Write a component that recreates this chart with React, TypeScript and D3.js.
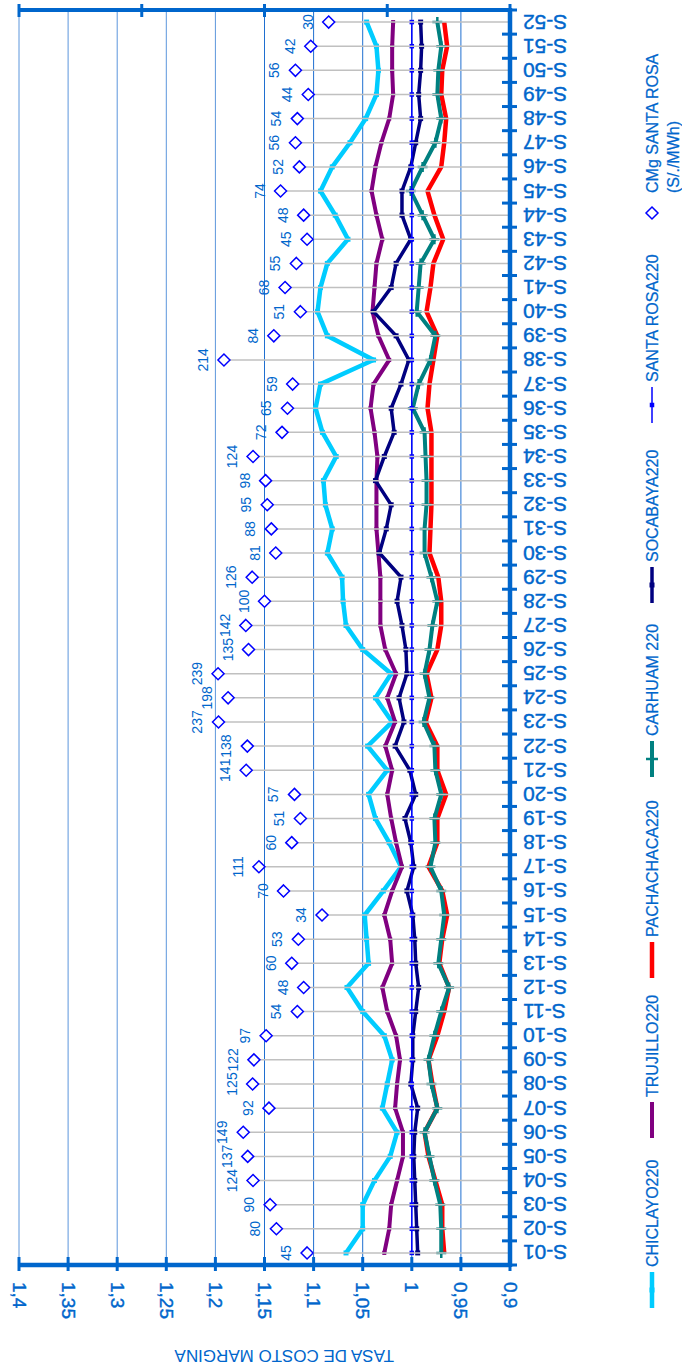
import * as d3 from 'd3';
import { useEffect, useRef } from 'react';

// semanas S-01 .. S-52 (de abajo hacia arriba en el gráfico girado)
const categories = [
  'S-01', 'S-02', 'S-03', 'S-04', 'S-05', 'S-06', 'S-07', 'S-08', 'S-09', 'S-10',
  'S-11', 'S-12', 'S-13', 'S-14', 'S-15', 'S-16', 'S-17', 'S-18', 'S-19', 'S-20',
  'S-21', 'S-22', 'S-23', 'S-24', 'S-25', 'S-26', 'S-27', 'S-28', 'S-29', 'S-30',
  'S-31', 'S-32', 'S-33', 'S-34', 'S-35', 'S-36', 'S-37', 'S-38', 'S-39', 'S-40',
  'S-41', 'S-42', 'S-43', 'S-44', 'S-45', 'S-46', 'S-47', 'S-48', 'S-49', 'S-50',
  'S-51', 'S-52',
];

const chiclayo = [
  1.067, 1.05, 1.05, 1.038, 1.022, 1.015, 1.03, 1.025, 1.02, 1.028,
  1.05, 1.066, 1.044, 1.046, 1.048, 1.029, 1.011, 1.023, 1.037, 1.044,
  1.025, 1.045, 1.02, 1.037, 1.021, 1.05, 1.067, 1.07, 1.071, 1.086,
  1.081, 1.088, 1.09, 1.077, 1.091, 1.098, 1.093, 1.039, 1.086, 1.096,
  1.093, 1.086, 1.065, 1.078, 1.093, 1.081, 1.063, 1.047, 1.036, 1.034,
  1.036, 1.046,
];
const trujillo = [
  1.028, 1.023, 1.021, 1.015, 1.009, 1.009, 1.017, 1.015, 1.012, 1.016,
  1.025, 1.03, 1.02, 1.022, 1.028, 1.02, 1.01, 1.016, 1.021, 1.025,
  1.02, 1.027, 1.017, 1.025, 1.016, 1.027, 1.032, 1.032, 1.032, 1.034,
  1.036, 1.036, 1.036, 1.035, 1.038, 1.042, 1.039, 1.023, 1.034, 1.04,
  1.038, 1.036, 1.03, 1.036, 1.041, 1.037, 1.031, 1.023, 1.019, 1.02,
  1.02, 1.019,
];
const pachachaca = [
  0.967, 0.969, 0.969, 0.976, 0.983, 0.987, 0.974, 0.979, 0.983, 0.974,
  0.967, 0.962, 0.972, 0.969, 0.964, 0.969, 0.983, 0.974, 0.974, 0.965,
  0.974, 0.974, 0.986, 0.98, 0.985, 0.974, 0.97, 0.97, 0.973, 0.982,
  0.981, 0.98, 0.98, 0.98, 0.98, 0.984, 0.982, 0.978, 0.974, 0.985,
  0.981, 0.978, 0.968, 0.977, 0.984, 0.97, 0.967, 0.965, 0.97, 0.969,
  0.964, 0.967,
];
const carhuamayo = [
  0.97, 0.97, 0.971, 0.977, 0.982, 0.987, 0.974, 0.98, 0.983, 0.977,
  0.97, 0.962, 0.973, 0.97, 0.967, 0.97, 0.981, 0.976, 0.977, 0.97,
  0.976, 0.977, 0.988, 0.982, 0.987, 0.982, 0.979, 0.974, 0.98, 0.987,
  0.987, 0.985, 0.985, 0.986, 0.987, 0.999, 0.993, 0.981, 0.976, 0.995,
  0.993, 0.991, 0.977, 0.989, 1.001, 0.989, 0.976, 0.97, 0.974, 0.973,
  0.97, 0.974,
];
const socabaya = [
  0.994, 0.995, 0.996, 0.997, 0.998, 0.997, 0.994, 1.001, 0.999, 0.999,
  0.996, 0.993, 0.996, 0.997, 0.999, 1.005, 0.998, 1.001, 1.007, 0.996,
  1.002, 1.017, 1.008, 1.013, 1.005, 1.006, 1.01, 1.015, 1.011, 1.033,
  1.026, 1.021, 1.037, 1.028, 1.018, 1.021, 1.011, 1.003, 1.016, 1.039,
  1.021, 1.016, 1.001, 1.01, 1.01, 1.001, 0.996, 0.991, 0.993, 0.991,
  0.99, 0.991,
];
const santaRosa = [
  1, 1, 1, 1, 1, 1, 1, 1, 1, 1, 1, 1, 1, 1, 1, 1, 1, 1, 1, 1, 1, 1, 1, 1, 1, 1,
  1, 1, 1, 1, 1, 1, 1, 1, 1, 1, 1, 1, 1, 1, 1, 1, 1, 1, 1, 1, 1, 1, 1, 1, 1, 1,
];
// CMg Santa Rosa en S/./MWh (eje secundario logarítmico)
const cmgSantaRosa = [
  45, 80, 90, 124, 137, 149, 92, 125, 122, 97,
  54, 48, 60, 53, 34, 70, 111, 60, 51, 57,
  141, 138, 237, 198, 239, 135, 142, 100, 126, 81,
  88, 95, 98, 124, 72, 65, 59, 214, 84, 51,
  68, 55, 45, 48, 74, 52, 56, 54, 44, 56,
  42, 30,
];

const valueTicks = [1.4, 1.35, 1.3, 1.25, 1.2, 1.15, 1.1, 1.05, 1, 0.95, 0.9];
const logTicks = [1, 10, 100, 1000, 10000];
const axisTitle = 'TASA DE COSTO MARGINA';

const lineSeries = [
  { name: 'CHICLAYO220', values: chiclayo, color: '#00CCFF', width: 4.5, marker: 'square', size: 5 },
  { name: 'TRUJILLO220', values: trujillo, color: '#800080', width: 4, marker: 'square', size: 4 },
  { name: 'PACHACHACA220', values: pachachaca, color: '#FF0000', width: 4.5, marker: 'none', size: 0 },
  { name: 'CARHUAM 220', values: carhuamayo, color: '#008080', width: 4, marker: 'plus', size: 10 },
  { name: 'SOCABAYA220', values: socabaya, color: '#000080', width: 3.5, marker: 'square', size: 5 },
  { name: 'SANTA ROSA220', values: santaRosa, color: '#0000FF', width: 1.5, marker: 'square', size: 4.5 },
];

const W = 682;
const H = 1370;
const BLUE = '#0066CC';
const FONT = "'Liberation Sans', Arial, sans-serif";

export default function App() {
  const ref = useRef<SVGSVGElement | null>(null);

  useEffect(() => {
    if (!ref.current) return;
    const svg = d3.select(ref.current);
    svg.selectAll('*').remove();

    const left = 19, right = 510, top = 10, bottom = 1265;

    const x = d3.scaleLinear().domain([0.9, 1.4]).range([right, left]);
    const xLog = d3.scaleLog().domain([1, 10000]).range([right, left]);
    const y = d3.scaleBand<string>().domain(categories).range([bottom, top]);
    const cy = (c: string) => (y(c) || 0) + y.bandwidth() / 2;
    const fmt = (v: number) => d3.format('~g')(v).replace('.', ',');

    const g = svg.append('g').attr('font-family', FONT);

    // grid
    g.selectAll('line.grid')
      .data(valueTicks)
      .join('line')
      .attr('x1', (d) => x(d)).attr('x2', (d) => x(d))
      .attr('y1', top).attr('y2', bottom)
      .attr('stroke', (d) => (d >= 1.2 ? '#5C96DC' : '#1F6FD0')).attr('stroke-width', 1);

    // series lines
    lineSeries.forEach((s) => {
      const pts = s.values.map((v, i) => [x(v), cy(categories[i])] as [number, number]);
      g.append('path')
        .attr('d', d3.line()(pts) || '')
        .attr('fill', 'none')
        .attr('stroke', s.color)
        .attr('stroke-width', s.width)
        .attr('stroke-linejoin', 'miter');
      if (s.marker === 'square') {
        g.append('g').selectAll('rect')
          .data(pts)
          .join('rect')
          .attr('x', (d) => d[0] - s.size / 2)
          .attr('y', (d) => d[1] - s.size / 2)
          .attr('width', s.size).attr('height', s.size)
          .attr('fill', s.color);
      } else if (s.marker === 'plus') {
        g.append('g').selectAll('path')
          .data(pts)
          .join('path')
          .attr('d', (d) => `M${d[0] - s.size / 2},${d[1]}H${d[0] + s.size / 2}M${d[0]},${d[1] - s.size / 2}V${d[1] + s.size / 2}`)
          .attr('stroke', s.color).attr('stroke-width', 2.5);
      }
    });

    // CMg: drop lines, diamonds, labels
    const cmg = cmgSantaRosa.map((v, i) => ({ v, c: categories[i] }));
    g.append('g').selectAll('line')
      .data(cmg)
      .join('line')
      .attr('x1', (d) => xLog(d.v) + 6).attr('x2', right)
      .attr('y1', (d) => cy(d.c)).attr('y2', (d) => cy(d.c))
      .attr('stroke', '#C0C0C0').attr('stroke-width', 1.5);
    g.append('g').selectAll('path')
      .data(cmg)
      .join('path')
      .attr('d', (d) => {
        const px = xLog(d.v), py = cy(d.c);
        return `M${px},${py - 6}L${px + 6},${py}L${px},${py + 6}L${px - 6},${py}Z`;
      })
      .attr('fill', '#fff').attr('stroke', '#0000FF').attr('stroke-width', 1.5);
    g.append('g').selectAll('text')
      .data(cmg)
      .join('text')
      .attr('transform', (d) => `translate(${xLog(d.v) - 21},${cy(d.c)}) rotate(-90)`)
      .attr('text-anchor', 'middle').attr('dominant-baseline', 'central')
      .attr('font-size', 14).attr('fill', BLUE)
      .text((d) => d.v);

    // axes
    const ax = g.append('g').attr('stroke', BLUE).attr('stroke-linecap', 'butt');
    ax.append('line').attr('x1', left).attr('x2', right).attr('y1', bottom).attr('y2', bottom).attr('stroke-width', 4.5);
    ax.append('line').attr('x1', left).attr('x2', right).attr('y1', top).attr('y2', top).attr('stroke-width', 4);
    ax.append('line').attr('x1', right).attr('x2', right).attr('y1', top - 2).attr('y2', bottom + 2).attr('stroke-width', 4.5);
    ax.selectAll('line.vt')
      .data(valueTicks)
      .join('line')
      .attr('x1', (d) => x(d)).attr('x2', (d) => x(d))
      .attr('y1', bottom - 8).attr('y2', bottom + 6)
      .attr('stroke-width', 3);
    ax.selectAll('line.lt')
      .data(logTicks)
      .join('line')
      .attr('x1', (d) => xLog(d)).attr('x2', (d) => xLog(d))
      .attr('y1', top - 6).attr('y2', top + 7)
      .attr('stroke-width', 3);
    const bounds = categories.map((c) => y(c) || 0).concat([bottom]);
    ax.selectAll('line.ct')
      .data(bounds)
      .join('line')
      .attr('x1', right - 8).attr('x2', right + 7)
      .attr('y1', (d) => d).attr('y2', (d) => d)
      .attr('stroke-width', 3);

    // value labels (rotated 90)
    g.append('g').selectAll('text')
      .data(valueTicks)
      .join('text')
      .attr('transform', (d) => `translate(${x(d)},1282) rotate(90)`)
      .attr('dominant-baseline', 'central')
      .attr('font-size', 19).attr('fill', BLUE)
      .attr('stroke', BLUE).attr('stroke-width', 0.4)
      .text((d) => fmt(d));

    // category labels (upside down)
    g.append('g').selectAll('text')
      .data(categories)
      .join('text')
      .attr('transform', (d) => `translate(523,${cy(d)}) rotate(180)`)
      .attr('text-anchor', 'end').attr('dominant-baseline', 'central')
      .attr('font-size', 21).attr('fill', BLUE)
      .attr('stroke', BLUE).attr('stroke-width', 0.4)
      .text((d) => d);

    // axis title (upside down)
    g.append('text')
      .attr('transform', 'translate(394,1350) rotate(180)')
      .attr('font-size', 17).attr('fill', BLUE)
      .text(axisTitle);

    // legend (reads bottom to top)
    const legendX = 652;
    const legendStart = [1308, 1138, 978, 777, 603, 423];
    lineSeries.forEach((s, i) => {
      const y0 = legendStart[i];
      g.append('line')
        .attr('x1', legendX).attr('x2', legendX)
        .attr('y1', y0).attr('y2', y0 - 36)
        .attr('stroke', s.color).attr('stroke-width', s.width);
      if (s.marker === 'square') {
        g.append('rect')
          .attr('x', legendX - s.size / 2).attr('y', y0 - 18 - s.size / 2)
          .attr('width', s.size).attr('height', s.size).attr('fill', s.color);
      } else if (s.marker === 'plus') {
        g.append('path')
          .attr('d', `M${legendX - 6},${y0 - 18}H${legendX + 6}`)
          .attr('stroke', s.color).attr('stroke-width', 2.5);
      }
      g.append('text')
        .attr('transform', `translate(${legendX},${y0 - 41}) rotate(-90)`)
        .attr('dominant-baseline', 'central')
        .attr('font-size', 16).attr('fill', BLUE)
        .attr('stroke', BLUE).attr('stroke-width', 0.25)
        .text(s.name);
    });
    const dy = 213;
    g.append('path')
      .attr('d', `M${legendX},${dy - 6}L${legendX + 6},${dy}L${legendX},${dy + 6}L${legendX - 6},${dy}Z`)
      .attr('fill', '#fff').attr('stroke', '#0000FF').attr('stroke-width', 1.5);
    g.append('text')
      .attr('transform', `translate(${legendX},193) rotate(-90)`)
      .attr('dominant-baseline', 'central')
      .attr('font-size', 16).attr('fill', BLUE)
      .attr('stroke', BLUE).attr('stroke-width', 0.25)
      .text('CMg SANTA ROSA');
    g.append('text')
      .attr('transform', `translate(${legendX + 21},193) rotate(-90)`)
      .attr('dominant-baseline', 'central')
      .attr('font-size', 16).attr('fill', BLUE)
      .attr('stroke', BLUE).attr('stroke-width', 0.25)
      .text('(S/./MWh)');
  }, []);

  return (
    <svg
      ref={ref}
      width={W}
      height={H}
      viewBox={`0 0 ${W} ${H}`}
      style={{ position: 'absolute', left: 0, top: 0, background: '#fff', display: 'block' }}
    />
  );
}
